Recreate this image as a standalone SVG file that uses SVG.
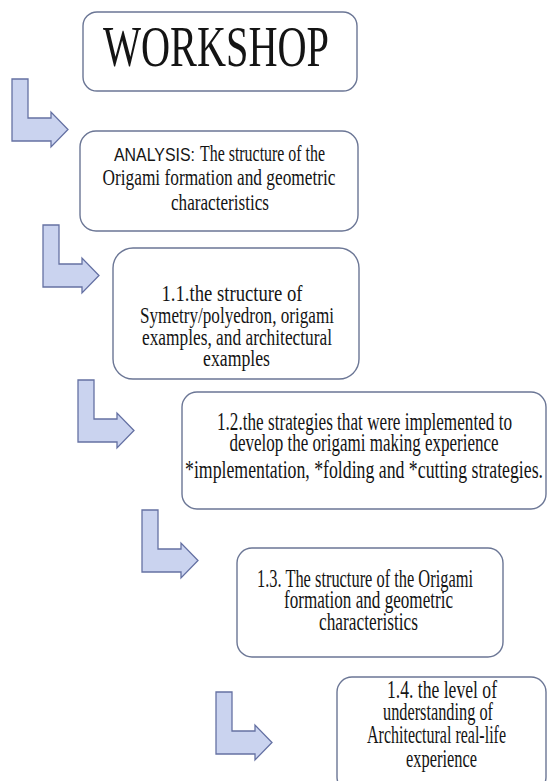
<svg xmlns="http://www.w3.org/2000/svg" xmlns:xlink="http://www.w3.org/1999/xlink" width="547" height="781" viewBox="0 0 547 781">
<style>
.box{fill:#ffffff;stroke:#6b7695;stroke-width:1.4}
.arr{fill:#cad3ef;stroke:#6571a3;stroke-width:1.3;stroke-linejoin:miter}
.t{font-family:"Liberation Serif","Times New Roman",serif;fill:#141414;text-anchor:middle}
.s{font-family:"Liberation Sans",Arial,sans-serif;fill:#141414}
</style>
<defs>
<path id="arrow" d="M0,0 H16 V39 H39 V33 L56,50.5 L39,68 V62 H0 Z"/>
</defs>
<rect width="547" height="781" fill="#ffffff"/>
<g id="connectors">
<use xlink:href="#arrow" class="arr" x="12" y="79"/>
<use xlink:href="#arrow" class="arr" x="43" y="225"/>
<use xlink:href="#arrow" class="arr" x="78" y="380"/>
<use xlink:href="#arrow" class="arr" x="142" y="510"/>
<use xlink:href="#arrow" class="arr" x="216" y="692"/>
</g>
<g id="workshop">
<rect class="box" x="83" y="12" width="274" height="79" rx="14"/>
<text class="t" transform="translate(216,66) scale(0.7,1)" font-size="58" textLength="322.9" lengthAdjust="spacingAndGlyphs">WORKSHOP</text>
</g>
<g id="analysis">
<rect class="box" x="80" y="131" width="278" height="100" rx="16"/>
<text class="s" transform="translate(114,161) scale(0.87,1)" font-size="18" textLength="93.1" lengthAdjust="spacingAndGlyphs">ANALYSIS:</text>
<text class="t" transform="translate(200,161) scale(0.66,1)" font-size="24" style="text-anchor:start" textLength="189.4" lengthAdjust="spacingAndGlyphs">The structure of the</text>
<text class="t" transform="translate(219,185) scale(0.66,1)" font-size="24" textLength="353" lengthAdjust="spacingAndGlyphs">Origami formation and geometric</text>
<text class="t" transform="translate(220,210) scale(0.66,1)" font-size="24" textLength="148.5" lengthAdjust="spacingAndGlyphs">characteristics</text>
</g>
<g id="step11">
<rect class="box" x="113" y="248" width="246" height="131" rx="20"/>
<text class="t" transform="translate(232,301) scale(0.66,1)" font-size="24" textLength="213.6" lengthAdjust="spacingAndGlyphs">1.1.the structure of</text>
<text class="t" transform="translate(237,323) scale(0.66,1)" font-size="24" textLength="293.9" lengthAdjust="spacingAndGlyphs">Symetry/polyedron, origami</text>
<text class="t" transform="translate(237,345) scale(0.66,1)" font-size="24" textLength="287.9" lengthAdjust="spacingAndGlyphs">examples, and architectural</text>
<text class="t" transform="translate(236.5,366) scale(0.66,1)" font-size="24" textLength="101.5" lengthAdjust="spacingAndGlyphs">examples</text>
</g>
<g id="step12">
<rect class="box" x="182" y="392" width="364" height="117" rx="15"/>
<text class="t" transform="translate(364.5,430) scale(0.66,1)" font-size="25" textLength="447" lengthAdjust="spacingAndGlyphs">1.2.the strategies that were implemented to</text>
<text class="t" transform="translate(364,451) scale(0.66,1)" font-size="25" textLength="407.6" lengthAdjust="spacingAndGlyphs">develop the origami making experience</text>
<text class="t" transform="translate(364,478) scale(0.66,1)" font-size="25" textLength="542.4" lengthAdjust="spacingAndGlyphs">*implementation, *folding and *cutting strategies.</text>
</g>
<g id="step13">
<rect class="box" x="237" y="548" width="266" height="109" rx="15"/>
<text class="t" transform="translate(365,587) scale(0.66,1)" font-size="26" textLength="327.3" lengthAdjust="spacingAndGlyphs">1.3. The structure of the Origami</text>
<text class="t" transform="translate(368.5,608) scale(0.66,1)" font-size="26" textLength="256.1" lengthAdjust="spacingAndGlyphs">formation and geometric</text>
<text class="t" transform="translate(368.5,630) scale(0.66,1)" font-size="26" textLength="150" lengthAdjust="spacingAndGlyphs">characteristics</text>
</g>
<g id="step14">
<rect class="box" x="337" y="677" width="209" height="115" rx="15"/>
<text class="t" transform="translate(442,698) scale(0.66,1)" font-size="26" textLength="166.7" lengthAdjust="spacingAndGlyphs">1.4. the level of</text>
<text class="t" transform="translate(438,720) scale(0.66,1)" font-size="26" textLength="166.7" lengthAdjust="spacingAndGlyphs">understanding of</text>
<text class="t" transform="translate(436.5,743) scale(0.66,1)" font-size="26" textLength="210.6" lengthAdjust="spacingAndGlyphs">Architectural real-life</text>
<text class="t" transform="translate(441.5,767) scale(0.66,1)" font-size="26" textLength="107.6" lengthAdjust="spacingAndGlyphs">experience</text>
</g>
</svg>
